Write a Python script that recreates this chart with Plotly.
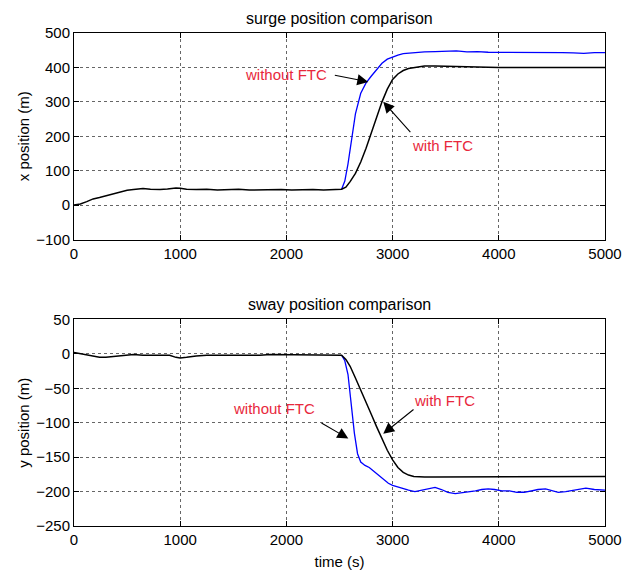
import plotly.graph_objects as go
from plotly.subplots import make_subplots

# ---- data ----
t_surge_ftc = [0, 60, 120, 180, 240, 300, 360, 430, 500, 560, 650, 720, 810, 880, 960, 1000, 1060, 1150, 1250, 1350, 1450,
               1550, 1650, 1750, 1850, 1950, 2050, 2150, 2250, 2350, 2450, 2520, 2560, 2600, 2650, 2700, 2750, 2800,
               2850, 2900, 2950, 3000, 3050, 3100, 3150, 3200, 3250, 3300, 3400, 3500, 3600, 3700, 3800, 3900,
               4000, 4200, 4400, 4600, 4800, 5000]
x_surge_ftc = [0, 3, 10, 18, 22, 27, 33, 39, 43, 45, 48, 46, 45, 47, 50, 49, 46, 45, 46, 44, 45,
               46, 44, 45, 46, 45, 44, 45, 45, 44, 45, 46, 52, 68, 92, 125, 165, 210,
               255, 300, 337, 365, 381, 391, 397, 400, 403, 404, 404, 403, 402, 401, 401, 400,
               400, 400, 400, 400, 400, 400]

t_surge_noftc = [2520, 2550, 2580, 2610, 2650, 2700, 2750, 2800, 2850, 2900, 2950, 3000, 3050, 3100, 3200, 3300,
                 3400, 3500, 3600, 3700, 3800, 3900, 4000, 4100, 4200, 4300, 4400, 4500, 4600, 4700, 4800, 4900, 5000]
x_surge_noftc = [46, 70, 120, 180, 265, 325, 355, 375, 392, 412, 424, 431, 436, 440, 443, 445,
                 446, 447, 448, 445, 446, 444, 444, 445, 444, 443, 445, 444, 443, 442, 441, 443, 443]

t_sway_ftc = [0, 60, 120, 180, 240, 300, 360, 430, 500, 560, 650, 750, 850, 900, 960, 1000, 1060, 1150, 1250, 1350,
              1450, 1550, 1650, 1750, 1850, 1950, 2050, 2150, 2250, 2350, 2450, 2520, 2560, 2600, 2650, 2700,
              2750, 2800, 2850, 2900, 2950, 3000, 3050, 3100, 3150, 3200, 3250, 3300, 3400, 3500, 3600, 3800,
              4000, 4200, 4400, 4600, 4800, 5000]
y_sway_ftc = [2, 0, -2, -4, -5, -5, -4, -3, -1, -1, -2, -2, -2, -2, -5, -6, -5, -3, -2, -2,
              -2, -3, -2, -2, -1, -1, -2, -2, -1, -2, -1, -2, -8, -18, -35, -52,
              -70, -88, -106, -123, -140, -154, -165, -172, -176, -178, -179, -179, -179, -179, -178, -178,
              -178, -178, -178, -178, -178, -178]

t_sway_noftc = [2520, 2550, 2580, 2610, 2640, 2670, 2700, 2740, 2780, 2820, 2870, 2920, 2960, 3000, 3080, 3150,
                3210, 3270, 3330, 3400, 3460, 3520, 3590, 3650, 3720, 3780, 3840, 3900, 3960, 4030, 4100,
                4170, 4240, 4300, 4370, 4440, 4500, 4560, 4630, 4700, 4760, 4820, 4900, 5000]
y_sway_noftc = [-2, -10, -30, -75, -115, -145, -157, -162, -165, -170, -176, -182, -188, -191, -195, -198,
                -200, -198, -196, -194, -197, -201, -203, -202, -200, -199, -197, -196, -197, -199, -199,
                -201, -201, -199, -197, -196, -198, -201, -200, -198, -196, -195, -197, -198]

x_ticks = [0, 1000, 2000, 3000, 4000, 5000]
surge_ticks = [-100, 0, 100, 200, 300, 400, 500]
sway_ticks = [-250, -200, -150, -100, -50, 0, 50]

FONT = "Liberation Sans, Arial, sans-serif"
RED = "rgb(232,40,60)"

fig = make_subplots(rows=2, cols=1, vertical_spacing=0.1622)
fig.add_trace(go.Scatter(x=t_surge_noftc, y=x_surge_noftc, mode="lines",
                         line=dict(color="rgb(0,0,255)", width=1.3)), row=1, col=1)
fig.add_trace(go.Scatter(x=t_surge_ftc, y=x_surge_ftc, mode="lines",
                         line=dict(color="black", width=1.5)), row=1, col=1)
fig.add_trace(go.Scatter(x=t_sway_noftc, y=y_sway_noftc, mode="lines",
                         line=dict(color="rgb(0,0,255)", width=1.3)), row=2, col=1)
fig.add_trace(go.Scatter(x=t_sway_ftc, y=y_sway_ftc, mode="lines",
                         line=dict(color="black", width=1.5)), row=2, col=1)

axis_common = dict(showline=True, linecolor="black", linewidth=1, mirror="ticks",
                   ticks="inside", ticklen=5, tickcolor="black", automargin=False,
                   showgrid=True, gridcolor="rgba(0,0,0,0.6)", griddash="dot", gridwidth=1,
                   zeroline=False, tickfont=dict(family=FONT, size=15, color="black"))

fig.update_xaxes(range=[0, 5000], tickvals=x_ticks, **axis_common)
fig.update_yaxes(**axis_common)
fig.update_yaxes(range=[-100, 500], tickvals=surge_ticks, row=1, col=1,
                 title=dict(text="x position (m)", font=dict(family=FONT, size=15, color="black"), standoff=2))
fig.update_yaxes(range=[-250, 50], tickvals=sway_ticks, row=2, col=1,
                 title=dict(text="y position (m)", font=dict(family=FONT, size=15, color="black"), standoff=2))
fig.update_xaxes(row=2, col=1,
                 title=dict(text="time (s)", font=dict(family=FONT, size=15, color="black"), standoff=9))

# the page body adds an 8px offset, so the figure is 8px smaller and margins shifted
fig.update_layout(
    width=627, height=564,
    margin=dict(l=66, r=30, t=25, b=46),
    paper_bgcolor="white", plot_bgcolor="white",
    showlegend=False,
    font=dict(family=FONT, color="black"),
)

# subplot titles
fig.add_annotation(text="surge position comparison", xref="x domain", yref="y domain", x=0.5, y=1.0,
                   yanchor="bottom", yshift=4, showarrow=False, font=dict(family=FONT, size=16, color="black"))
fig.add_annotation(text="sway position comparison", xref="x2 domain", yref="y2 domain", x=0.5, y=1.0,
                   yanchor="bottom", yshift=4, showarrow=False, font=dict(family=FONT, size=16, color="black"))

# labels and arrows
def label(text, x, y, xr, yr):
    fig.add_annotation(text=text, x=x, y=y, xref=xr, yref=yr, showarrow=False,
                       font=dict(family=FONT, size=15, color=RED))

def arrow(x, y, ax, ay, xr, yr):
    fig.add_annotation(text="", x=x, y=y, ax=ax, ay=ay, xref=xr, yref=yr, axref=xr, ayref=yr,
                       showarrow=True, arrowhead=2, arrowsize=2, arrowwidth=1.1, arrowcolor="black")

label("without FTC", 2000, 378, "x", "y")
arrow(2771, 358, 2442, 378, "x", "y")
label("with FTC", 3474, 174, "x", "y")
arrow(2912, 300, 3180, 208, "x", "y")

label("without FTC", 1883, -79, "x2", "y2")
arrow(2583, -123, 2316, -99, "x2", "y2")
label("with FTC", 3484, -67, "x2", "y2")
arrow(2912, -116, 3211, -79, "x2", "y2")

fig.write_html("out.html")
